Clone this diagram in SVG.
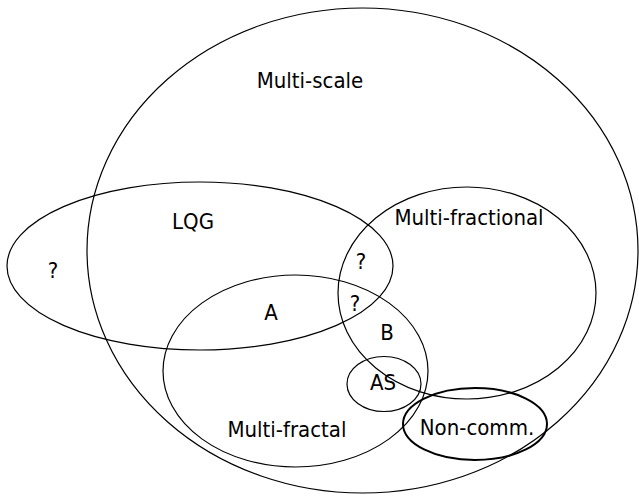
<svg xmlns="http://www.w3.org/2000/svg" width="639" height="496" viewBox="0 0 639 496">
<style>
.s{fill:none;stroke:#000;stroke-width:1.2}
.t{font-family:"DejaVu Sans Condensed","DejaVu Sans","Liberation Sans",sans-serif;font-stretch:condensed;font-size:22px;fill:#000;text-anchor:middle}
</style>
<rect width="639" height="496" fill="#fff"/>
<g id="multi-scale"><ellipse class="s" cx="362.5" cy="250.5" rx="275.5" ry="242.5"/><text class="t" x="310" y="88">Multi-scale</text></g>
<g id="lqg"><ellipse class="s" cx="200" cy="266" rx="193" ry="84"/><text class="t" x="193" y="229">LQG</text><text class="t" x="53" y="278">?</text></g>
<g id="multi-fractional"><ellipse class="s" cx="467" cy="293" rx="129" ry="106"/><text class="t" x="469" y="225">Multi-fractional</text></g>
<g id="multi-fractal"><ellipse class="s" cx="295.5" cy="371" rx="132.5" ry="96"/><text class="t" x="287" y="437">Multi-fractal</text></g>
<g id="as"><ellipse class="s" cx="384" cy="384" rx="37" ry="27.5"/><text class="t" x="383" y="390">AS</text></g>
<g id="non-comm"><ellipse fill="none" stroke="#000" stroke-width="2" cx="475" cy="424" rx="72" ry="36"/><text class="t" x="477" y="435">Non-comm.</text></g>
<g id="labels"><text class="t" x="361" y="269">?</text><text class="t" x="355" y="311">?</text><text class="t" x="271" y="320">A</text><text class="t" x="387" y="340">B</text></g>
<g id="connectors"/>
</svg>
